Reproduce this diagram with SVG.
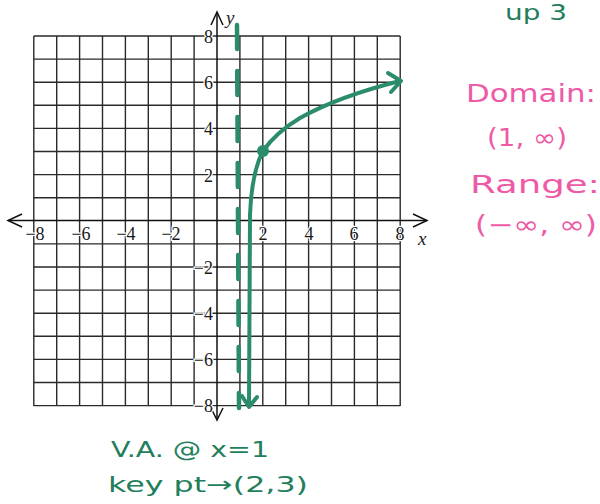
<svg xmlns="http://www.w3.org/2000/svg" width="600" height="504" viewBox="0 0 600 504">
<style>
.grid{stroke:#2a2a2a;stroke-width:1.4;fill:none}
.axis{stroke:#111;stroke-width:1.5;fill:none}
.num{font-family:"Liberation Serif",serif;font-size:18px;fill:#1a1a1a;stroke:#fff;stroke-width:2.5;paint-order:stroke}
.var{font-family:"Liberation Serif",serif;font-style:italic;font-size:19px;fill:#222}
.ink{stroke:#2a8c6b;fill:none;stroke-width:4;stroke-linecap:round;stroke-linejoin:round}
.va{stroke:#2a8c6b;stroke-width:4.5;stroke-linecap:round;stroke-dasharray:24 22;fill:none}
.pink{font-family:"DejaVu Sans",sans-serif;font-size:24px;fill:#ee5aa6}
.green{font-family:"DejaVu Sans",sans-serif;font-size:22px;fill:#237e5c}
</style>
<rect width="600" height="504" fill="#fff"/>
<g id="grid">
<path class="grid" d="M33.8,36V406M56.7,36V406M79.6,36V406M102.5,36V406M125.4,36V406M148.3,36V406M171.2,36V406M194.1,36V406M239.9,36V406M262.8,36V406M285.7,36V406M308.6,36V406M331.5,36V406M354.4,36V406M377.3,36V406M400.2,36V406"/>
<path class="grid" d="M33.8,36H400.2M33.8,59.1H400.2M33.8,82.2H400.2M33.8,105.3H400.2M33.8,128.4H400.2M33.8,151.5H400.2M33.8,174.6H400.2M33.8,197.7H400.2M33.8,243.9H400.2M33.8,267H400.2M33.8,290.1H400.2M33.8,313.2H400.2M33.8,336.3H400.2M33.8,359.4H400.2M33.8,382.5H400.2M33.8,405.6H400.2"/>
</g>
<g id="axes">
<path class="axis" d="M8,220.5H427M217,12V420"/>
<path class="axis" d="M22,214L8,220.5L22,227M413,214L427,220.5L413,227M211,25L217,12L223,25M211,408L217,420L223,408"/>
<text class="var" x="226" y="24">y</text>
<text class="var" x="418" y="245">x</text>
</g>
<g id="x-labels" text-anchor="middle">
<text class="num" x="35" y="240">−8</text>
<text class="num" x="81" y="240">−6</text>
<text class="num" x="126" y="240">−4</text>
<text class="num" x="171" y="240">−2</text>
<text class="num" x="263" y="240">2</text>
<text class="num" x="309" y="240">4</text>
<text class="num" x="354" y="240">6</text>
<text class="num" x="400" y="240">8</text>
</g>
<g id="y-labels" text-anchor="end">
<text class="num" x="213" y="43">8</text>
<text class="num" x="213" y="89">6</text>
<text class="num" x="213" y="135">4</text>
<text class="num" x="213" y="182">2</text>
<text class="num" x="213" y="274">−2</text>
<text class="num" x="213" y="320">−4</text>
<text class="num" x="213" y="366">−6</text>
<text class="num" x="213" y="412">−8</text>
</g>
<g id="asymptote">
<path class="va" d="M237,25L239,408"/>
</g>
<g id="curve">
<path class="ink" d="M249,405L250,215C251,190 255,166 263,151C272,138 285,127 300,118C325,104 360,91 400,81"/>
<path class="ink" d="M388,73L401,81L391,92"/>
<path class="ink" d="M242,396L249,407L257,397"/>
<circle cx="263" cy="151" r="6" fill="#2a8c6b"/>
</g>
<g id="notes">
<text class="green" x="505" y="20" font-size="19" textLength="62" lengthAdjust="spacingAndGlyphs">up 3</text>
<text class="pink" x="466" y="102" textLength="130" lengthAdjust="spacingAndGlyphs">Domain:</text>
<text class="pink" x="487" y="146" textLength="80" lengthAdjust="spacingAndGlyphs">(1, ∞)</text>
<text class="pink" x="470" y="193" textLength="130" lengthAdjust="spacingAndGlyphs">Range:</text>
<text class="pink" x="475" y="233" textLength="122" lengthAdjust="spacingAndGlyphs">(−∞, ∞)</text>
<text class="green" x="111" y="457" textLength="158" lengthAdjust="spacingAndGlyphs">V.A. @ x=1</text>
<text class="green" x="108" y="492" textLength="200" lengthAdjust="spacingAndGlyphs">key pt→(2,3)</text>
</g>
</svg>
